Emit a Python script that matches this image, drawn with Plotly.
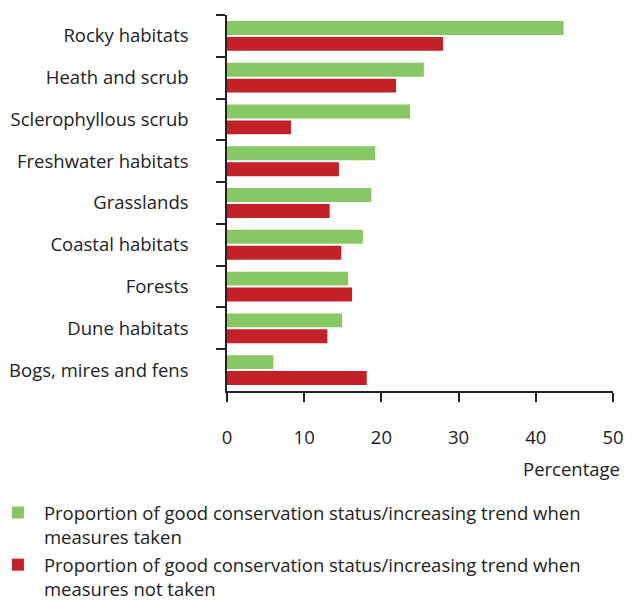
import plotly.graph_objects as go

categories = ["Rocky habitats", "Heath and scrub", "Sclerophyllous scrub", "Freshwater habitats",
              "Grasslands", "Coastal habitats", "Forests", "Dune habitats", "Bogs, mires and fens"]
measures_taken = [43.6, 25.5, 23.7, 19.2, 18.7, 17.6, 15.7, 14.9, 6.0]
measures_not_taken = [28.0, 21.9, 8.3, 14.5, 13.3, 14.8, 16.2, 13.0, 18.1]
x_ticks = [0, 10, 20, 30, 40, 50]

name_taken = "Proportion of good conservation status/increasing trend when<br>measures taken"
name_not = "Proportion of good conservation status/increasing trend when<br>measures not taken"

GREEN = "#88C864"
RED = "#C42027"
FONT = "Open Sans"
TXT = "#222222"
FS = 18.5

fig = go.Figure()
fig.add_trace(go.Bar(y=categories, x=measures_taken, orientation="h", name=name_taken,
                     marker=dict(color=GREEN, line=dict(width=0)), legendgroup="a"))
fig.add_trace(go.Bar(y=categories, x=measures_not_taken, orientation="h", name=name_not,
                     marker=dict(color=RED, line=dict(width=0)), legendgroup="b"))

fig.update_layout(
    width=616, height=592,
    margin=dict(l=219, r=11, t=7, b=209, autoexpand=False),
    paper_bgcolor="white", plot_bgcolor="white",
    font=dict(family=FONT, size=FS, color=TXT),
    barmode="group", bargap=0.238, bargroupgap=0.125,
    showlegend=True,
    legend=dict(xref="paper", yref="paper", x=-0.609, y=-0.2739, xanchor="left", yanchor="top",
                orientation="v", traceorder="grouped", tracegroupgap=1, valign="top", itemwidth=42,
                font=dict(family=FONT, size=FS, color=TXT), bgcolor="rgba(0,0,0,0)"),
    annotations=[dict(text="Percentage", xref="paper", yref="paper", x=1, y=0,
                      xanchor="right", yanchor="middle", xshift=9, yshift=-77, showarrow=False,
                      font=dict(family=FONT, size=FS, color=TXT))],
)
fig.update_xaxes(range=[0, 50], tickvals=x_ticks, showgrid=False, zeroline=False,
                 showline=True, linecolor="#222222", linewidth=1.5, automargin=False,
                 ticks="outside", ticklen=9, tickwidth=1.5, tickcolor="#222222",
                 ticklabelstandoff=20)
fig.update_yaxes(autorange="reversed", showgrid=False, zeroline=False, automargin=False,
                 showline=True, linecolor="#222222", linewidth=1.5,
                 ticks="outside", tickson="boundaries", ticklen=9, tickwidth=1.5, tickcolor="#222222",
                 ticklabelstandoff=33)

fig.write_html("out.html")
